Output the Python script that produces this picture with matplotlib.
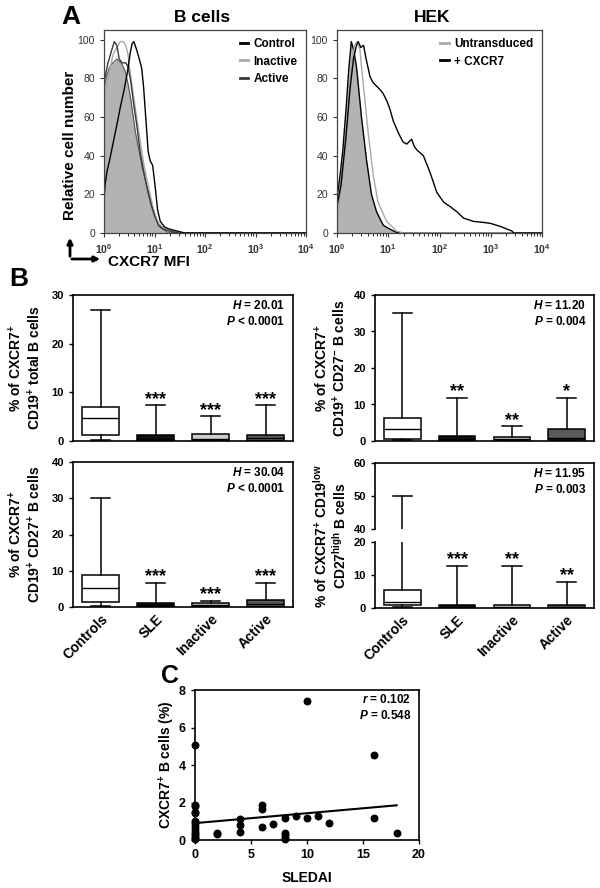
import numpy as np
import matplotlib
matplotlib.use('Agg')
import matplotlib.pyplot as plt
from matplotlib.ticker import LogLocator, NullFormatter
from matplotlib.patches import FancyArrowPatch

plt.rcParams['font.family'] = ['Liberation Sans', 'DejaVu Sans']
plt.rcParams['font.weight'] = 'bold'
plt.rcParams['axes.labelweight'] = 'bold'
plt.rcParams['mathtext.fontset'] = 'custom'
plt.rcParams['mathtext.rm'] = 'Liberation Sans:bold'
plt.rcParams['mathtext.it'] = 'Liberation Sans:italic:bold'
plt.rcParams['mathtext.bf'] = 'Liberation Sans:bold'
plt.rcParams['mathtext.sf'] = 'Liberation Sans'

# ---- panel A: flow histograms (MFI, relative cell number) ----
bcell_iso_mfi = [1.0, 1.15, 1.3, 1.5, 1.8, 2.2, 2.6, 3.0, 3.4, 4.2, 5.7, 8.3, 12.2, 18, 30, 10000]
bcell_iso_count = [75, 82, 86, 88, 90, 88, 84, 77, 69, 52, 34, 17, 3.4, 0.5, 0, 0]

bcell_control_mfi = [1.0, 1.05, 1.15, 1.3, 1.5, 1.8, 2.1, 2.5, 2.9, 3.3, 3.6, 3.9, 4.4, 5.0,
                     5.6, 6.1, 6.7, 7.5, 8.3, 9.2, 10.5, 11.5, 13, 16, 20, 28, 40, 10000]
bcell_control_count = [17, 25, 32, 38, 46, 56, 65, 74, 83, 93, 98, 99, 95, 90,
                       85, 75, 60, 42, 37, 35, 22, 12, 6, 3, 2, 1, 0, 0]

bcell_inactive_mfi = [1.0, 1.2, 1.5, 1.8, 2.1, 2.4, 2.7, 3.0, 3.5, 4.0, 4.6, 5.3, 6.2, 7.2,
                      8.5, 10, 12, 16, 22, 30, 10000]
bcell_inactive_count = [70, 80, 92, 96, 99, 99, 97, 92, 78, 68, 57, 46, 35, 27,
                        18, 10, 5, 2, 1, 0, 0]

bcell_active_mfi = [1.0, 1.2, 1.4, 1.6, 1.8, 2.0, 2.3, 2.7, 3.0, 3.4, 3.9, 4.5, 5.2, 6.0,
                    7.0, 8.5, 10, 12, 15, 20, 30, 10000]
bcell_active_count = [78, 88, 94, 99, 97, 90, 88, 88, 86, 78, 66, 55, 42, 33,
                      24, 15, 9, 4, 2, 1, 0, 0]

hek_iso_mfi = [1.0, 1.05, 1.15, 1.3, 1.5, 1.7, 1.9, 2.1, 2.4, 3.0, 3.76, 4.7, 5.9, 8, 10.8, 14.5, 20, 10000]
hek_iso_count = [20, 22, 30, 43, 64, 85, 99, 95, 86, 60, 38, 20, 11, 4, 2, 0.3, 0, 0]

hek_untrans_mfi = [1.0, 1.1, 1.3, 1.6, 1.9, 2.2, 2.5, 2.8, 3.0, 3.5, 4.05, 5.1, 6.3, 9.3, 14.5, 19.6, 10000]
hek_untrans_count = [5, 15, 30, 60, 85, 97, 99, 95, 86, 69, 52, 30, 16, 6, 1, 0, 0]

hek_cxcr7_mfi = [1.0, 1.0, 1.02, 1.2, 1.5, 1.8, 2.1, 2.4, 2.6, 2.9, 3.3, 3.7, 4.4, 5.0, 5.9, 7.0,
                 8.0, 9.5, 10.8, 12.5, 14.5, 17, 19.6, 23, 28.6, 32, 36, 48.5, 65, 88.6, 120,
                 162, 218, 295, 463, 700, 980, 1540, 2600, 2800, 10000]
hek_cxcr7_count = [0, 69, 15, 25, 50, 75, 90, 97, 99, 96, 97, 90, 81, 78, 76, 74,
                   72, 68, 64, 58, 54, 50, 47, 46, 48.5, 45, 43, 40, 31.5, 21, 16,
                   13.6, 11, 7.7, 6, 5.5, 5, 3.4, 1, 0, 0]

# ---- panel B: box plot summaries ----
categories = ['Controls', 'SLE', 'Inactive', 'Active']
box_colors = ['white', '#111111', '#cfcfcf', '#5a5a5a']

total_lo = [0.2, 0.05, 0.05, 0.05]
total_q1 = [1.2, 0.1, 0.1, 0.1]
total_med = [4.8, 0.5, 0.5, 0.6]
total_q3 = [7.0, 1.3, 1.4, 1.3]
total_hi = [27, 7.4, 5.1, 7.4]
total_stars = ['', '***', '***', '***']

cd27neg_lo = [0.3, 0.0, 0.1, 0.1]
cd27neg_q1 = [0.6, 0.1, 0.2, 0.3]
cd27neg_med = [3.2, 0.6, 0.6, 0.8]
cd27neg_q3 = [6.3, 1.5, 1.1, 3.3]
cd27neg_hi = [35, 11.8, 4.1, 11.8]
cd27neg_stars = ['', '**', '**', '*']

cd27pos_lo = [0.3, 0.0, 0.0, 0.0]
cd27pos_q1 = [1.5, 0.1, 0.1, 0.1]
cd27pos_med = [5.2, 0.6, 0.5, 0.7]
cd27pos_q3 = [8.8, 1.2, 1.0, 1.9]
cd27pos_hi = [30, 6.7, 1.7, 6.7]
cd27pos_stars = ['', '***', '***', '***']

cd27high_lo = [0.2, 0.0, 0.0, 0.0]
cd27high_q1 = [0.8, 0.1, 0.1, 0.1]
cd27high_med = [1.8, 0.3, 0.3, 0.3]
cd27high_q3 = [5.5, 0.9, 0.9, 0.9]
cd27high_hi = [50, 12.8, 12.8, 7.9]
cd27high_stars = ['', '***', '**', '**']

# ---- panel C: correlation ----
sledai = [0, 0, 0, 0, 0, 0, 0, 0, 0, 0, 0, 0, 0, 0,
          2, 2, 4, 4, 4, 6, 6, 6, 7, 8, 8, 8, 8, 8, 9, 10, 10, 11, 12, 16, 16, 18]
cxcr7_pct = [5.05, 1.85, 1.8, 1.5, 1.45, 1.0, 0.9, 0.75, 0.6, 0.45, 0.3, 0.2, 0.1, 0.05,
             0.35, 0.3, 1.1, 0.8, 0.45, 1.85, 1.65, 0.7, 0.85, 1.2, 0.35, 0.25, 0.1, 0.05,
             1.3, 7.4, 1.15, 1.3, 0.9, 4.55, 1.15, 0.35]
fit_sledai = [0, 18]
fit_pct = [0.9, 1.85]

W, H = 600, 888
fig = plt.figure(figsize=(W / 100, H / 100), dpi=100)


def add_ax(x0, y0, x1, y1):
    return fig.add_axes([x0 / W, 1 - y1 / H, (x1 - x0) / W, (y1 - y0) / H])


def fpos(x, y):
    return (x / W, 1 - y / H)


def style_hist(ax):
    ax.set_xscale('log')
    ax.set_xlim(1, 1e4)
    ax.set_ylim(0, 105)
    ax.set_yticks([0, 20, 40, 60, 80, 100])
    ax.set_xticks([1, 10, 100, 1000, 10000])
    ax.set_xticklabels([r'$\mathsf{10^{%d}}$' % i for i in range(5)])
    ax.xaxis.set_minor_locator(LogLocator(base=10, subs=np.arange(2, 10)))
    ax.xaxis.set_minor_formatter(NullFormatter())
    ax.tick_params(direction='out', length=3, width=0.8, labelsize=7.5, colors='#333333')
    ax.tick_params(which='minor', length=2, width=0.6)
    for lbl in ax.get_yticklabels():
        lbl.set_fontweight('normal')
    for s in ax.spines.values():
        s.set_linewidth(0.9)
        s.set_color('#444444')


def hist_legend(ax, handles):
    leg = ax.legend(handles=handles, loc='upper right', frameon=False, fontsize=8.5,
                    handlelength=0.7, handletextpad=0.5, labelspacing=0.45,
                    borderaxespad=0.3)
    for h in leg.legend_handles:
        h.set_linewidth(2)


# Panel A - B cells
axa = add_ax(104, 30, 306, 233)
axa.fill_between(bcell_iso_mfi, bcell_iso_count, color='#b3b3b3', lw=0)
axa.plot(bcell_iso_mfi, bcell_iso_count, color='#555555', lw=0.8)
l_in, = axa.plot(bcell_inactive_mfi, bcell_inactive_count, color='#a8a8a8', lw=1, label='Inactive')
l_ac, = axa.plot(bcell_active_mfi, bcell_active_count, color='#3a3a3a', lw=1, label='Active')
l_co, = axa.plot(bcell_control_mfi, bcell_control_count, color='black', lw=1, label='Control')
style_hist(axa)
hist_legend(axa, [l_co, l_in, l_ac])

# Panel A - HEK
axh = add_ax(337, 30, 542, 233)
axh.fill_between(hek_iso_mfi, hek_iso_count, color='#b3b3b3', lw=0)
axh.plot(hek_iso_mfi, hek_iso_count, color='black', lw=1)
l_un, = axh.plot(hek_untrans_mfi, hek_untrans_count, color='#a8a8a8', lw=1, label='Untransduced')
l_cx, = axh.plot(hek_cxcr7_mfi, hek_cxcr7_count, color='black', lw=1, label='+ CXCR7')
style_hist(axh)
hist_legend(axh, [l_un, l_cx])

fig.text(*fpos(71, 17), 'A', fontsize=19, ha='center', va='center')
fig.text(*fpos(202, 17), 'B cells', fontsize=12.5, ha='center', va='center')
fig.text(*fpos(432, 17), 'HEK', fontsize=12.5, ha='center', va='center')
fig.text(*fpos(70, 145), 'Relative cell number', fontsize=11, rotation=90, ha='center', va='center')
fig.add_artist(FancyArrowPatch(fpos(70, 259), fpos(70, 235), transform=fig.transFigure,
                               arrowstyle='-|>', mutation_scale=8, lw=2, color='black'))
fig.add_artist(FancyArrowPatch(fpos(69, 259), fpos(103, 259), transform=fig.transFigure,
                               arrowstyle='-|>', mutation_scale=8, lw=2, color='black'))
fig.text(*fpos(108, 262), 'CXCR7 MFI', fontsize=11, ha='left', va='center')
fig.text(*fpos(19, 279), 'B', fontsize=19, ha='center', va='center')


def draw_boxes(ax, lo, q1, med, q3, hi, stars=None):
    stats = [dict(whislo=a, q1=b, med=c, q3=d, whishi=e, fliers=[])
             for a, b, c, d, e in zip(lo, q1, med, q3, hi)]
    bp = ax.bxp(stats, positions=[1, 2, 3, 4], widths=0.67, capwidths=0.36,
                patch_artist=True, showfliers=False,
                boxprops=dict(linewidth=1.1, edgecolor='black'),
                medianprops=dict(color='black', linewidth=1),
                whiskerprops=dict(color='black', linewidth=1.1),
                capprops=dict(color='black', linewidth=1.1))
    for patch, c in zip(bp['boxes'], box_colors):
        patch.set_facecolor(c)
    if stars:
        for x, y, s in zip([1, 2, 3, 4], hi, stars):
            if s:
                ax.annotate(s, (x, y), xytext=(0, 1), textcoords='offset points',
                            ha='center', va='baseline', fontsize=13)
    ax.set_xlim(0.5, 4.5)


def style_box(ax, bottom_labels):
    ax.tick_params(axis='y', direction='out', length=3, width=1, labelsize=8)
    ax.tick_params(axis='x', length=0)
    for s in ax.spines.values():
        s.set_linewidth(1.2)
    if bottom_labels:
        ax.set_xticks([1, 2, 3, 4])
        ax.set_xticklabels(categories, rotation=45, ha='right', rotation_mode='anchor',
                           fontsize=10)
    else:
        ax.set_xticks([])


def stat_text(ax, s, y=0.97):
    ax.text(0.965, y, s, transform=ax.transAxes, ha='right', va='top', fontsize=8.5,
            linespacing=1.3)


# B top-left
ax1 = add_ax(73, 295, 293, 441)
draw_boxes(ax1, total_lo, total_q1, total_med, total_q3, total_hi, total_stars)
ax1.set_ylim(0, 30)
ax1.set_yticks([0, 10, 20, 30])
style_box(ax1, False)
stat_text(ax1, '$H$ = 20.01\n$P$ < 0.0001')
ax1.set_ylabel('% of CXCR7$^{+}$\nCD19$^{+}$ total B cells', fontsize=10, linespacing=1.1)
ax1.yaxis.set_label_coords(-0.135, 0.5)

# B top-right
ax2 = add_ax(375, 295, 594, 441)
draw_boxes(ax2, cd27neg_lo, cd27neg_q1, cd27neg_med, cd27neg_q3, cd27neg_hi, cd27neg_stars)
ax2.set_ylim(0, 40)
ax2.set_yticks([0, 10, 20, 30, 40])
style_box(ax2, False)
stat_text(ax2, '$H$ = 11.20\n$P$ = 0.004')
ax2.set_ylabel('% of CXCR7$^{+}$\nCD19$^{+}$ CD27$^{-}$ B cells', fontsize=10, linespacing=1.1)
ax2.yaxis.set_label_coords(-0.12, 0.5)

# B bottom-left
ax3 = add_ax(73, 462, 293, 607)
draw_boxes(ax3, cd27pos_lo, cd27pos_q1, cd27pos_med, cd27pos_q3, cd27pos_hi, cd27pos_stars)
ax3.set_ylim(0, 40)
ax3.set_yticks([0, 10, 20, 30, 40])
style_box(ax3, True)
stat_text(ax3, '$H$ = 30.04\n$P$ < 0.0001')
ax3.set_ylabel('% of CXCR7$^{+}$\nCD19$^{+}$ CD27$^{+}$ B cells', fontsize=10, linespacing=1.1)
ax3.yaxis.set_label_coords(-0.135, 0.5)

# B bottom-right (broken axis)
ax4bg = add_ax(375, 463, 594, 608)
ax4bg.set_xticks([])
ax4bg.set_yticks([])
ax4bg.patch.set_alpha(0)
for k, s in ax4bg.spines.items():
    s.set_visible(k == 'right')
    s.set_linewidth(1.2)
ax4bg.set_ylabel('% of CXCR7$^{+}$ CD19$^{\\mathrm{low}}$\nCD27$^{\\mathrm{high}}$ B cells',
                 fontsize=10, linespacing=1.1)
ax4bg.yaxis.set_label_coords(-0.12, 0.5)

ax4u = add_ax(375, 463, 594, 529)
draw_boxes(ax4u, cd27high_lo, cd27high_q1, cd27high_med, cd27high_q3, cd27high_hi)
ax4u.set_ylim(40, 60)
ax4u.set_yticks([40, 50, 60])
style_box(ax4u, False)
ax4u.spines['bottom'].set_visible(False)
ax4u.spines['right'].set_visible(False)
ax4u.patch.set_alpha(0)
stat_text(ax4u, '$H$ = 11.95\n$P$ = 0.003', y=0.94)

ax4l = add_ax(375, 542, 594, 608)
draw_boxes(ax4l, cd27high_lo, cd27high_q1, cd27high_med, cd27high_q3, cd27high_hi, cd27high_stars)
ax4l.set_ylim(0, 20)
ax4l.set_yticks([0, 10, 20])
style_box(ax4l, True)
ax4l.spines['top'].set_visible(False)
ax4l.spines['right'].set_visible(False)
ax4l.patch.set_alpha(0)

# Panel C
axc = add_ax(195, 690, 419, 840)
axc.scatter(sledai, cxcr7_pct, s=22, color='black', clip_on=False, zorder=3)
axc.plot(fit_sledai, fit_pct, color='black', lw=1.5)
axc.set_xlim(0, 20)
axc.set_ylim(0, 8)
axc.set_xticks([0, 5, 10, 15, 20])
axc.set_yticks([0, 2, 4, 6, 8])
axc.tick_params(direction='out', length=3, width=1, labelsize=9)
for s in axc.spines.values():
    s.set_linewidth(1.2)
axc.set_xlabel('SLEDAI', fontsize=10, labelpad=7)
axc.set_ylabel('CXCR7$^{+}$ B cells (%)', fontsize=10)
axc.yaxis.set_label_coords(-0.08, 0.5)
stat_text(axc, '$r$ = 0.102\n$P$ = 0.548', y=0.98)
fig.text(*fpos(170, 676), 'C', fontsize=18, ha='center', va='center')

fig.savefig('out.png', dpi=100)
